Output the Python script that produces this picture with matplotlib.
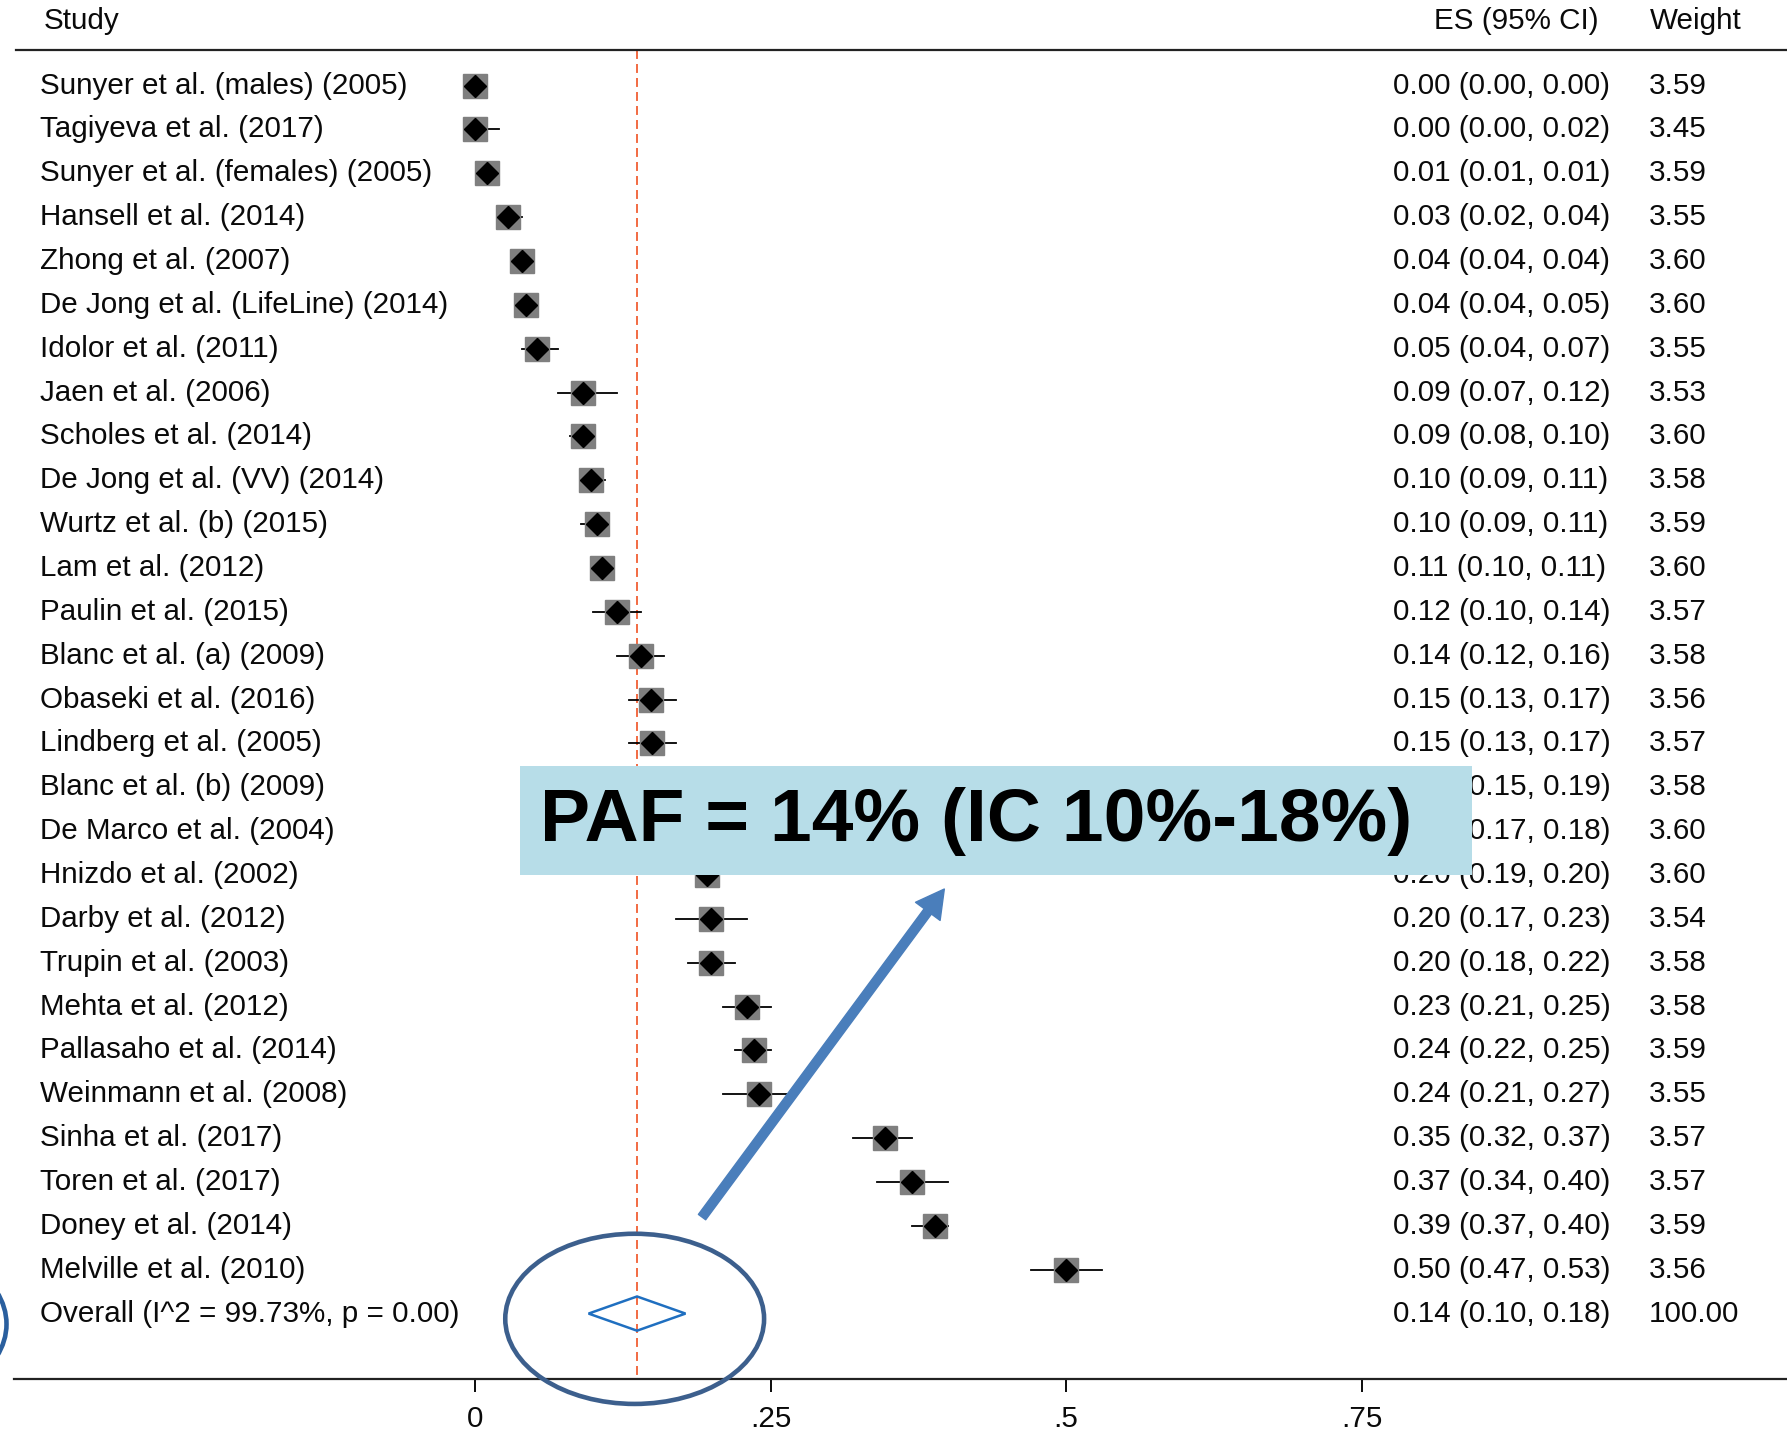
import matplotlib.pyplot as plt
from matplotlib.patches import Ellipse, Rectangle, Polygon

plt.rcParams['font.family'] = ['Liberation Sans', 'DejaVu Sans']

studies = [
    "Sunyer et al. (males) (2005)", "Tagiyeva et al. (2017)",
    "Sunyer et al. (females) (2005)", "Hansell et al. (2014)",
    "Zhong et al. (2007)", "De Jong et al. (LifeLine) (2014)",
    "Idolor et al. (2011)", "Jaen et al. (2006)", "Scholes et al. (2014)",
    "De Jong et al. (VV) (2014)", "Wurtz et al. (b) (2015)",
    "Lam et al. (2012)", "Paulin et al. (2015)", "Blanc et al. (a) (2009)",
    "Obaseki et al. (2016)", "Lindberg et al. (2005)",
    "Blanc et al. (b) (2009)", "De Marco et al. (2004)",
    "Hnizdo et al. (2002)", "Darby et al. (2012)", "Trupin et al. (2003)",
    "Mehta et al. (2012)", "Pallasaho et al. (2014)",
    "Weinmann et al. (2008)", "Sinha et al. (2017)", "Toren et al. (2017)",
    "Doney et al. (2014)", "Melville et al. (2010)",
]
es = [0.000, 0.000, 0.010, 0.028, 0.040, 0.043, 0.052, 0.091, 0.091, 0.098,
      0.103, 0.107, 0.120, 0.140, 0.149, 0.150, 0.170, 0.176, 0.196, 0.200,
      0.200, 0.230, 0.236, 0.240, 0.347, 0.370, 0.389, 0.500]
ci_lo = [0.00, 0.00, 0.01, 0.02, 0.04, 0.04, 0.04, 0.07, 0.08, 0.09,
         0.09, 0.10, 0.10, 0.12, 0.13, 0.13, 0.15, 0.17, 0.19, 0.17,
         0.18, 0.21, 0.22, 0.21, 0.32, 0.34, 0.37, 0.47]
ci_hi = [0.00, 0.02, 0.01, 0.04, 0.04, 0.05, 0.07, 0.12, 0.10, 0.11,
         0.11, 0.11, 0.14, 0.16, 0.17, 0.17, 0.19, 0.18, 0.20, 0.23,
         0.22, 0.25, 0.25, 0.27, 0.37, 0.40, 0.40, 0.53]
weights = [3.59, 3.45, 3.59, 3.55, 3.60, 3.60, 3.55, 3.53, 3.60, 3.58,
           3.59, 3.60, 3.57, 3.58, 3.56, 3.57, 3.58, 3.60, 3.60, 3.54,
           3.58, 3.58, 3.59, 3.55, 3.57, 3.57, 3.59, 3.56]

overall_label = "Overall (I^2 = 99.73%, p = 0.00)"
overall_es, overall_lo, overall_hi = 0.137, 0.096, 0.178
overall_weight = 100.00

xticks = [0, 0.25, 0.5, 0.75]
xticklabels = ['0', '.25', '.5', '.75']

TXT = 21.3
INK = '#0a0a0a'
narrow = ['Liberation Sans Narrow', 'Liberation Sans']

fig = plt.figure(figsize=(17.87, 14.32), dpi=100)
ax = fig.add_axes([0, 0, 1, 1])
ax.set_xlim(-0.402, 1.110)
ax.set_ylim(30.70, -1.95)

n = len(studies)
rows = list(range(n))
overall_row = n
head_row = -1.47
top_rule = -0.81
axis_row = 29.49
col_study, col_es, col_w = -0.368, 0.7766, 0.9932

# header and rules
ax.text(col_study + 0.003, head_row, "Study", fontsize=TXT, va='center', color=INK)
ax.text(0.8113, head_row, "ES (95% CI)", fontsize=TXT, va='center', family=narrow,
        color=INK)
ax.text(col_w + 0.001, head_row, "Weight", fontsize=TXT, va='center', color=INK)
ax.axhline(top_rule, xmin=0.009, xmax=1, color='#222222', lw=1.6)

# reference line at the pooled estimate
ax.vlines(overall_es, top_rule, axis_row, colors='#F26A42', lw=1.4,
          linestyles=(0, (4.6, 2.6)), zorder=1)

# study rows
for i in rows:
    ax.plot([ci_lo[i], ci_hi[i]], [i, i], color='black', lw=1.3, zorder=2)
    ax.plot(es[i], i, marker='s', ls='none', ms=17.3 * (weights[i] / 3.6) ** 0.5,
            mfc='#7f7f7f', mec='#7f7f7f', zorder=3)
    ax.plot(es[i], i, marker='D', ls='none', ms=11.2, color='black', zorder=4)
    ax.text(col_study, i, studies[i], fontsize=TXT, va='center', color=INK)
    ax.text(col_es, i, f"{es[i]:.2f} ({ci_lo[i]:.2f}, {ci_hi[i]:.2f})",
            fontsize=TXT, va='center', family=narrow, color=INK)
    ax.text(col_w, i, f"{weights[i]:.2f}", fontsize=TXT, va='center', color=INK)

# pooled estimate
ax.add_patch(Polygon([[overall_lo, overall_row], [overall_es, overall_row - 0.39],
                      [overall_hi, overall_row], [overall_es, overall_row + 0.39]],
                     closed=True, fill=False, ec='#1F6FC0', lw=1.8, zorder=4))
ax.text(col_study, overall_row, overall_label, fontsize=TXT, va='center', color=INK)
ax.text(col_es, overall_row, f"{overall_es:.2f} ({overall_lo:.2f}, {overall_hi:.2f})",
        fontsize=TXT, va='center', family=narrow, color=INK)
ax.text(col_w, overall_row, f"{overall_weight:.2f}", fontsize=TXT, va='center',
        color=INK)

# x axis
for side in ['top', 'left', 'right']:
    ax.spines[side].set_visible(False)
ax.spines['bottom'].set_position(('data', axis_row))
ax.spines['bottom'].set_bounds(-0.39, 1.110)
ax.spines['bottom'].set_linewidth(1.6)
ax.spines['bottom'].set_color('#222222')
ax.set_xticks(xticks)
ax.set_xticklabels(xticklabels)
ax.tick_params(axis='x', direction='out', length=9, width=1.4, pad=10,
               labelsize=TXT, colors=INK)
ax.set_yticks([])

# annotation: PAF box, arrow and circles
ax.add_patch(Rectangle((0.038, 15.52), 0.8055, 2.48, fc='#B7DDE8', ec='none', zorder=5))
ax.text(0.055, 16.78, "PAF = 14% (IC 10%-18%)", fontsize=54, fontweight='bold',
        va='center', zorder=6, color='black')
ax.annotate('', xy=(0.397, 18.32), xytext=(0.192, 25.8),
            arrowprops=dict(width=6.5, headwidth=22, headlength=20,
                            color='#4A7EBB', shrink=0), zorder=6)
ax.add_patch(Ellipse((overall_es - 0.002, overall_row + 0.12), 0.219, 3.88,
                     fill=False, ec='#3C5F8D', lw=3.3, zorder=6))
ax.add_patch(Ellipse((-0.506, overall_row + 0.24), 0.219, 3.88,
                     fill=False, ec='#2A5F9E', lw=3.3, zorder=6))

fig.savefig('out.png', dpi=100)
